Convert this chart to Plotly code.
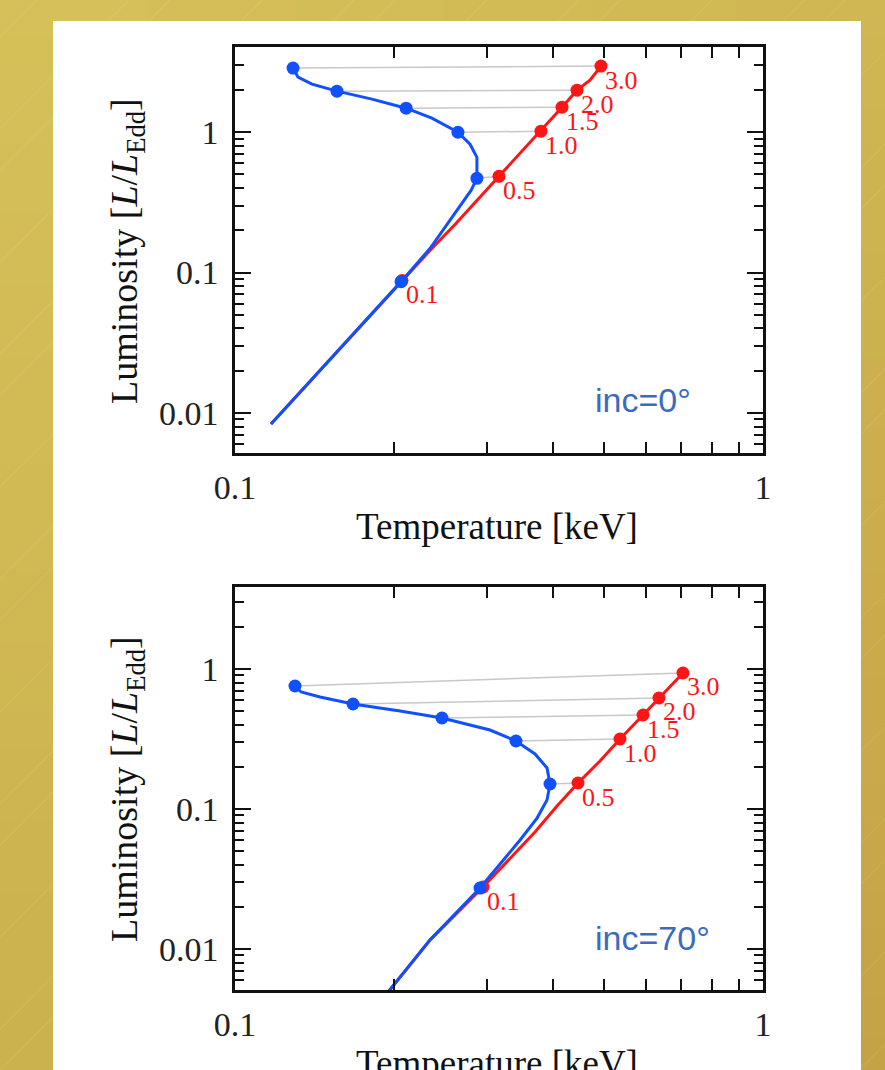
import numpy as np
import plotly.graph_objects as go

W, H = 885, 1070

mdot_labels = ["0.1", "0.5", "1.0", "1.5", "2.0", "3.0"]

# ---------------- inc = 0 deg ----------------
top_blue_T = [0.1170, 0.1553, 0.2063, 0.2340, 0.2532, 0.2691, 0.2799, 0.2872, 0.2872,
              0.2787, 0.2644, 0.2360, 0.2109, 0.1817, 0.1560, 0.1399, 0.1316, 0.1288]
top_blue_L = [0.00834, 0.0268, 0.0862, 0.1484, 0.2276, 0.3162, 0.3852, 0.4692, 0.663,
              0.821, 1.0, 1.259, 1.484, 1.721, 1.963, 2.202, 2.472, 2.865]
top_red_T = [0.1170, 0.2072, 0.2340, 0.2610, 0.2885, 0.3162, 0.3467, 0.3797, 0.4163,
             0.4444, 0.4702, 0.4933]
top_red_L = [0.00834, 0.0877, 0.1436, 0.2202, 0.3321, 0.4850, 0.7079, 1.017, 1.509,
             1.995, 2.351, 2.961]
top_blue_mk_T = [0.2063, 0.2872, 0.2644, 0.2109, 0.1560, 0.1288]
top_blue_mk_L = [0.0862, 0.4692, 1.0, 1.484, 1.963, 2.865]
top_red_mk_T = [0.2072, 0.3162, 0.3797, 0.4163, 0.4444, 0.4933]
top_red_mk_L = [0.0877, 0.4850, 1.017, 1.509, 1.995, 2.961]

# ---------------- inc = 70 deg ----------------
bot_blue_T = [0.1882, 0.2340, 0.2911, 0.3176, 0.3467, 0.3733, 0.3899, 0.3950, 0.3899,
              0.3700, 0.3405, 0.3041, 0.2466, 0.2054, 0.1673, 0.1449, 0.1334, 0.1299]
bot_blue_L = [0.00418, 0.01159, 0.02727, 0.04047, 0.06006, 0.0862, 0.1159, 0.1509, 0.1963,
              0.2471, 0.3060, 0.3666, 0.4467, 0.5012, 0.5623, 0.6310, 0.6851, 0.7560]
bot_red_T = [0.1882, 0.2340, 0.2949, 0.3318, 0.3700, 0.4073, 0.4463, 0.4912, 0.5360,
             0.5927, 0.6353, 0.6668, 0.7054]
bot_red_L = [0.00418, 0.01159, 0.02772, 0.04467, 0.0685, 0.1050, 0.1534, 0.2202, 0.3162,
             0.4692, 0.6207, 0.7560, 0.9363]
bot_blue_mk_T = [0.2911, 0.3950, 0.3405, 0.2466, 0.1673, 0.1299]
bot_blue_mk_L = [0.02727, 0.1509, 0.3060, 0.4467, 0.5623, 0.7560]
bot_red_mk_T = [0.2949, 0.4463, 0.5360, 0.5927, 0.6353, 0.7054]
bot_red_mk_L = [0.02772, 0.1534, 0.3162, 0.4692, 0.6207, 0.9363]

panel_names = ["inc=0°", "inc=70°"]

x_tickvals = [0.1, 1]
x_ticktext = ["0.1", "1"]
y_tickvals = [0.01, 0.1, 1]
y_ticktext = ["0.01", "0.1", "1"]

BLUE = "#1050ff"
RED = "#ff1515"
GRAY = "#c8c8c8"
SERIF = "Liberation Serif"

fig = go.Figure()

panels = [
    dict(bT=top_blue_T, bL=top_blue_L, rT=top_red_T, rL=top_red_L,
         bmT=top_blue_mk_T, bmL=top_blue_mk_L, rmT=top_red_mk_T, rmL=top_red_mk_L,
         xa="x", ya="y"),
    dict(bT=bot_blue_T, bL=bot_blue_L, rT=bot_red_T, rL=bot_red_L,
         bmT=bot_blue_mk_T, bmL=bot_blue_mk_L, rmT=bot_red_mk_T, rmL=bot_red_mk_L,
         xa="x2", ya="y2"),
]

annotations = []
for i, p in enumerate(panels):
    gx, gy = [], []
    for a, b, c, d in zip(p["bmT"], p["bmL"], p["rmT"], p["rmL"]):
        gx += [a, c, None]
        gy += [b, d, None]
    fig.add_trace(go.Scatter(x=gx, y=gy, mode="lines", line=dict(color=GRAY, width=1.5),
                             xaxis=p["xa"], yaxis=p["ya"], showlegend=False, hoverinfo="skip"))
    fig.add_trace(go.Scatter(x=p["rT"], y=p["rL"], mode="lines", line=dict(color=RED, width=3),
                             xaxis=p["xa"], yaxis=p["ya"], showlegend=False))
    fig.add_trace(go.Scatter(x=p["rmT"], y=p["rmL"], mode="markers",
                             marker=dict(color=RED, size=13),
                             xaxis=p["xa"], yaxis=p["ya"], showlegend=False))
    fig.add_trace(go.Scatter(x=p["bT"], y=p["bL"], mode="lines", line=dict(color=BLUE, width=3),
                             xaxis=p["xa"], yaxis=p["ya"], showlegend=False))
    fig.add_trace(go.Scatter(x=p["bmT"], y=p["bmL"], mode="markers",
                             marker=dict(color=BLUE, size=13),
                             xaxis=p["xa"], yaxis=p["ya"], showlegend=False))
    for t, l, lab in zip(p["rmT"], p["rmL"], mdot_labels):
        annotations.append(dict(x=np.log10(t), y=np.log10(l), xref=p["xa"], yref=p["ya"],
                                text=lab, showarrow=False, xanchor="left", yanchor="middle",
                                xshift=2, yshift=-14,
                                font=dict(family=SERIF, size=26, color=RED)))
    annotations.append(dict(x=0.678, y=0.13, xref=p["xa"] + " domain", yref=p["ya"] + " domain",
                            text=panel_names[i], showarrow=False, xanchor="left",
                            yanchor="middle",
                            font=dict(family="Liberation Sans", size=34, color="#3a6bc0")))

# axis titles
annotations += [
    dict(x=497 / W, y=1 - 526 / H, xref="paper", yref="paper", text="Temperature [keV]",
         showarrow=False, xanchor="center", yanchor="middle",
         font=dict(family=SERIF, size=37, color="#111")),
    dict(x=497 / W, y=1 - 1063 / H, xref="paper", yref="paper", text="Temperature [keV]",
         showarrow=False, xanchor="center", yanchor="middle",
         font=dict(family=SERIF, size=37, color="#111")),
    dict(x=127 / W, y=1 - 251 / H, xref="paper", yref="paper",
         text="Luminosity [<i>L</i>/<i>L</i><sub>Edd</sub>]", textangle=-90,
         showarrow=False, xanchor="center", yanchor="middle",
         font=dict(family=SERIF, size=38, color="#111")),
    dict(x=127 / W, y=1 - 789 / H, xref="paper", yref="paper",
         text="Luminosity [<i>L</i>/<i>L</i><sub>Edd</sub>]", textangle=-90,
         showarrow=False, xanchor="center", yanchor="middle",
         font=dict(family=SERIF, size=38, color="#111")),
]

# background: gold gradient, faint diagonal stripes, white panel
shapes = []
c_tl = np.array([0xd7, 0xc2, 0x5a])
c_tr = np.array([0xd0, 0xb7, 0x53])
c_bl = np.array([0xcd, 0xb3, 0x50])
c_br = np.array([0xc4, 0xa2, 0x47])
nr, nc = 30, 6
for r in range(nr):
    for c in range(nc):
        fy = (r + 0.5) / nr
        fx = (c + 0.5) / nc
        col = (c_tl * (1 - fx) * (1 - fy) + c_tr * fx * (1 - fy)
               + c_bl * (1 - fx) * fy + c_br * fx * fy)
        shapes.append(dict(type="rect", xref="paper", yref="paper", layer="below",
                           x0=c / nc, x1=min(1, (c + 1) / nc + 0.002),
                           y0=max(0, 1 - (r + 1) / nr - 0.002), y1=1 - r / nr,
                           line=dict(width=0),
                           fillcolor="rgb(%d,%d,%d)" % tuple(col.astype(int))))
for k in range(-14, 12):
    x0p = k * 75 + (k % 3) * 17
    shapes.append(dict(type="line", xref="paper", yref="paper", layer="below",
                       x0=x0p / W, y0=0, x1=(x0p + H) / W, y1=1,
                       line=dict(color="rgba(255,255,255,0.09)", width=1.2)))
shapes.append(dict(type="rect", xref="paper", yref="paper", layer="below",
                   x0=53 / W, x1=861 / W, y0=0, y1=1 - 21 / H,
                   line=dict(width=0), fillcolor="white"))

def xaxis_style(dom_anchor):
    return dict(type="log", range=[-1, 0], domain=[235 / W, 763 / W], anchor=dom_anchor,
                automargin=False,
                showgrid=False, zeroline=False, showline=True, linecolor="#111", linewidth=2.5,
                mirror="allticks", ticks="inside", ticklen=11, tickwidth=2, tickcolor="#111",
                tickvals=x_tickvals, ticktext=x_ticktext, ticklabelstandoff=2,
                tickfont=dict(family=SERIF, size=34, color="#222"),
                minor=dict(ticks="inside", ticklen=11, tickwidth=2, tickcolor="#111",
                           tickvals=[0.2, 0.3, 0.4, 0.5, 0.6, 0.7, 0.8, 0.9], showgrid=False))

def yaxis_style(dom, rng, anchor):
    return dict(type="log", range=rng, domain=dom, anchor=anchor,
                automargin=False,
                showgrid=False, zeroline=False, showline=True, linecolor="#111", linewidth=2.5,
                mirror="allticks", ticks="inside", ticklen=16, tickwidth=2, tickcolor="#111",
                tickvals=y_tickvals, ticktext=y_ticktext, ticklabelstandoff=7,
                tickfont=dict(family=SERIF, size=34, color="#222"),
                minor=dict(ticks="inside", ticklen=9, tickwidth=2, tickcolor="#111",
                           tickvals=[v * m for m in (0.001, 0.01, 0.1, 1)
                                     for v in (2, 3, 4, 5, 6, 7, 8, 9)],
                           showgrid=False))

fig.update_layout(
    width=W, height=H, margin=dict(l=0, r=0, t=0, b=0, pad=0, autoexpand=False),
    autosize=False,
    paper_bgcolor="#d2b952", plot_bgcolor="white",
    showlegend=False,
    xaxis=xaxis_style("y"),
    yaxis=yaxis_style([1 - 453 / H, 1 - 47 / H], [np.log10(0.00518), np.log10(4.05)], "x"),
    xaxis2=xaxis_style("y2"),
    yaxis2=yaxis_style([1 - 990 / H, 1 - 587 / H], [np.log10(0.0051), np.log10(3.85)], "x2"),
    annotations=annotations,
    shapes=shapes,
)

fig.write_html("out.html")
